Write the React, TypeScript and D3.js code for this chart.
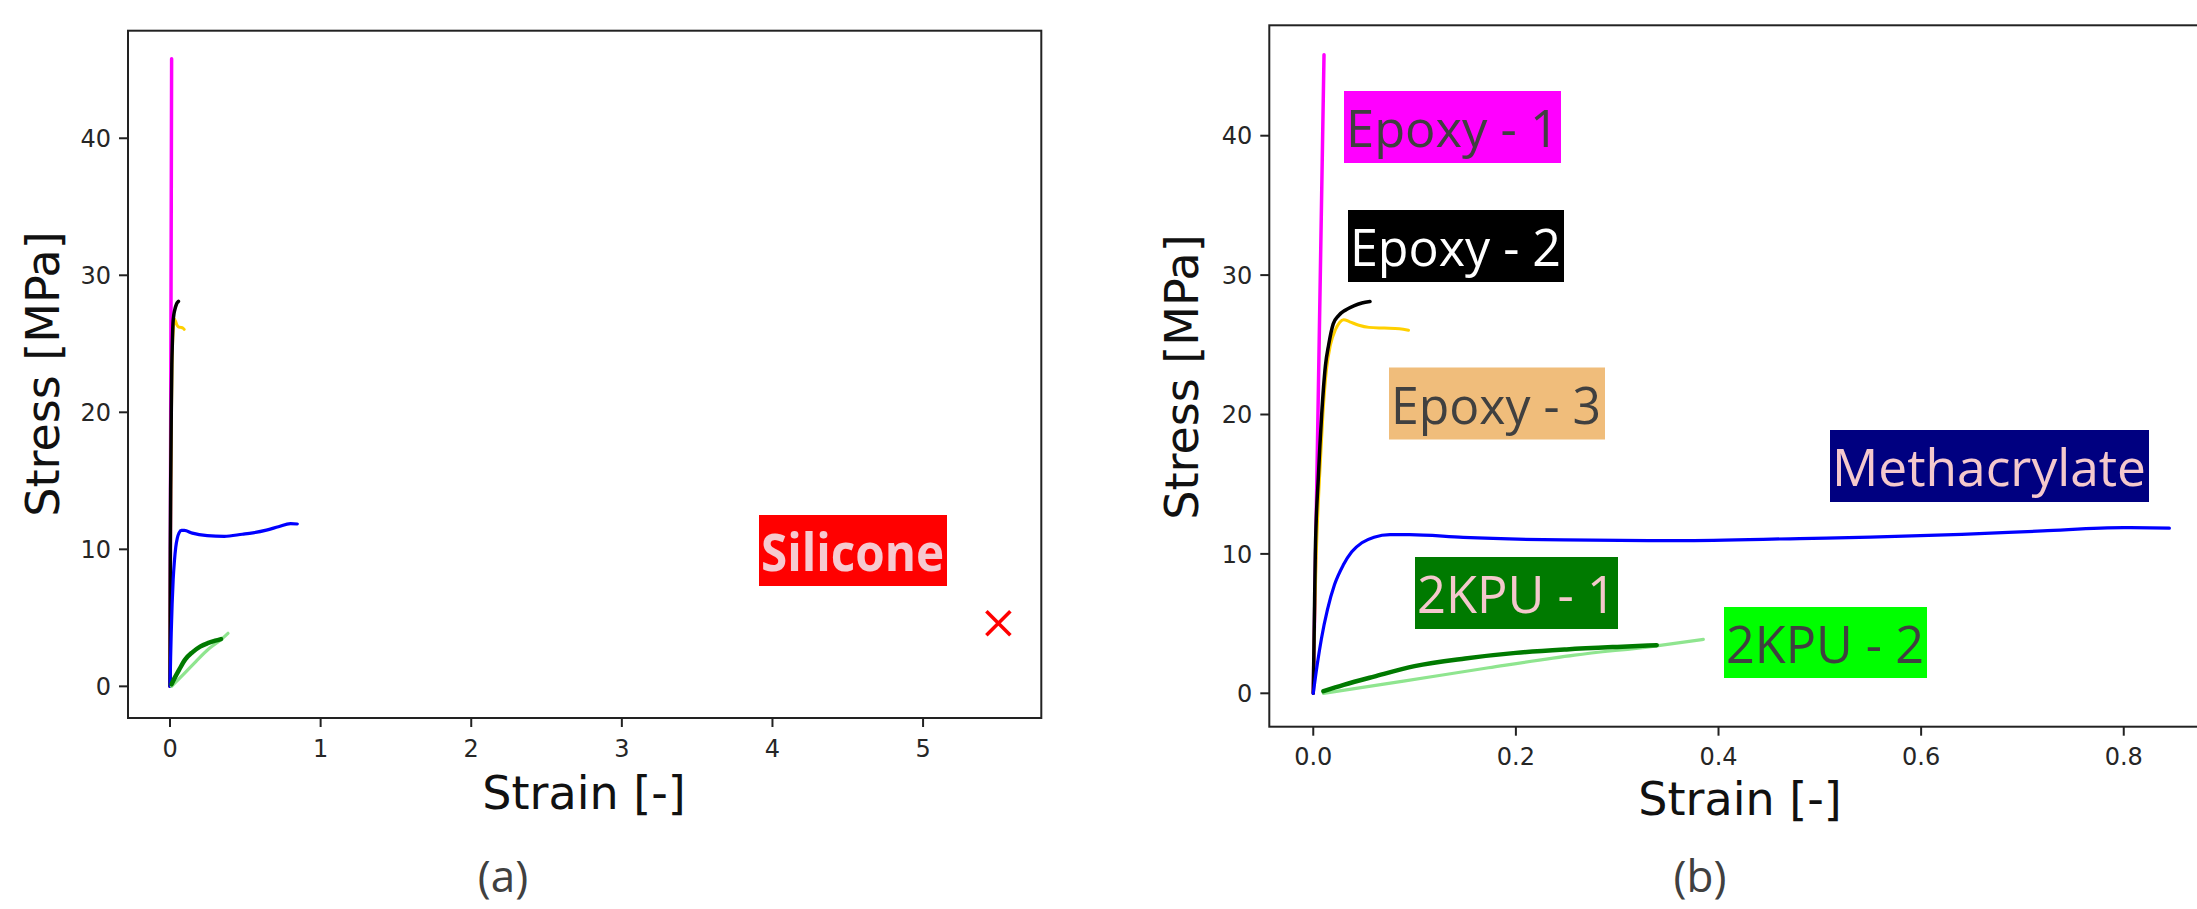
import React, { useEffect } from "react";
import * as d3 from "d3";

// ---------- data (strain [-], stress [MPa]) ----------
const epoxy1: [number, number][] = [[0, 0], [0.0106, 45.8]];
const epoxy2: [number, number][] = [
  [0, 0], [0.001, 5], [0.002, 10], [0.005, 15.5], [0.0083, 20], [0.012, 23.5], [0.0152, 25],
  [0.0197, 26.5], [0.025, 27.1], [0.032, 27.5], [0.04, 27.8], [0.048, 28.0], [0.056, 28.1],
];
const epoxy3: [number, number][] = [
  [0, 0], [0.0012, 5], [0.003, 10], [0.0062, 15.5], [0.0095, 20], [0.013, 23.2], [0.017, 25],
  [0.022, 26.1], [0.026, 26.6], [0.03, 26.8], [0.036, 26.65], [0.045, 26.4], [0.055, 26.25],
  [0.07, 26.2], [0.085, 26.15], [0.094, 26.05],
];
const methacrylate: [number, number][] = [
  [0, 0], [0.004, 2.1], [0.008, 3.9], [0.014, 6.0], [0.021, 7.8], [0.0296, 9.2], [0.038, 10.15],
  [0.048, 10.8], [0.06, 11.2], [0.0757, 11.38], [0.095, 11.38], [0.148, 11.18], [0.247, 11.0],
  [0.36, 10.95], [0.48, 11.1], [0.55, 11.2], [0.64, 11.4], [0.72, 11.65], [0.8, 11.88], [0.845, 11.85],
];
const kpu1: [number, number][] = [
  [0.01, 0.15], [0.03, 0.6], [0.06, 1.2], [0.1, 1.95], [0.15, 2.5], [0.2, 2.9], [0.25, 3.15],
  [0.3, 3.33], [0.339, 3.45],
];
const kpu2: [number, number][] = [
  [0.01, 0.0], [0.089, 0.87], [0.173, 1.83], [0.258, 2.74], [0.337, 3.39], [0.385, 3.87],
];
const silicone: [number, number][] = [[5.5, 4.6]];

const yTicks = [0, 10, 20, 30, 40];
const xTicksA = [0, 1, 2, 3, 4, 5];
const xTicksB = [0, 0.2, 0.4, 0.6, 0.8];

const seriesNames = ["Epoxy - 1", "Epoxy - 2", "Epoxy - 3", "Methacrylate", "2KPU - 1", "2KPU - 2"];
const seriesData = [epoxy1, epoxy2, epoxy3, methacrylate, kpu1, kpu2];
const seriesColors = ["#ff00ff", "#000000", "#ffd000", "#0000ff", "#007a00", "#8fe58f"];
const seriesWidths = [3.5, 3.5, 3, 3.2, 4.5, 3.2];
const drawOrder = [0, 2, 1, 3, 5, 4];

const W = 2197;
const H = 909;
const tickFont = "DejaVu Sans";

type PanelProps = {
  x: d3.ScaleLinear<number, number>;
  y: d3.ScaleLinear<number, number>;
  xTicks: number[];
  fmt: (v: number) => string;
  xLabelX: number;
  yLabelY: number;
  yLabelX: number;
  xLabelY: number;
  clipId: string;
};

function Panel({ x, y, xTicks, fmt, xLabelX, yLabelY, yLabelX, xLabelY, clipId }: PanelProps) {
  const [x0, x1] = x.range();
  const [y0, y1] = y.range(); // y0 bottom, y1 top
  const line = d3
    .line<[number, number]>()
    .x((d) => x(d[0]))
    .y((d) => y(d[1]))
    .curve(d3.curveMonotoneX);
  return (
    <g>
      <defs>
        <clipPath id={clipId}>
          <rect x={x0} y={y1} width={x1 - x0} height={y0 - y1} />
        </clipPath>
      </defs>
      <g clipPath={`url(#${clipId})`}>
        {drawOrder.map((i) => (
          <path
            key={i}
            d={line(seriesData[i]) || ""}
            fill="none"
            stroke={seriesColors[i]}
            strokeWidth={seriesWidths[i]}
            strokeLinejoin="round"
            strokeLinecap="round"
          />
        ))}
      </g>
      <rect x={x0} y={y1} width={x1 - x0} height={y0 - y1} fill="none" stroke="#222" strokeWidth={2} />
      {yTicks.map((t) => (
        <g key={"y" + t}>
          <line x1={x0 - 9} x2={x0} y1={y(t)} y2={y(t)} stroke="#222" strokeWidth={2} />
          <text x={x0 - 17} y={y(t) + 8.7} textAnchor="end" fontFamily={tickFont} fontSize={24} fill="#262626">
            {t}
          </text>
        </g>
      ))}
      {xTicks.map((t) => (
        <g key={"x" + t}>
          <line x1={x(t)} x2={x(t)} y1={y0} y2={y0 + 9} stroke="#222" strokeWidth={2} />
          <text x={x(t)} y={y0 + 38.5} textAnchor="middle" fontFamily={tickFont} fontSize={24} fill="#262626">
            {fmt(t)}
          </text>
        </g>
      ))}
      <text x={xLabelX} y={xLabelY} textAnchor="middle" fontFamily={tickFont} fontSize={46} fill="#111">
        Strain [-]
      </text>
      <text
        transform={`translate(${yLabelX},${yLabelY}) rotate(-90)`}
        textAnchor="middle"
        fontFamily={tickFont}
        fontSize={46}
        fill="#111"
      >
        Stress [MPa]
      </text>
    </g>
  );
}

type Tag = { text: string; x: number; y: number; w: number; h: number; bg: string; fg: string; tw: number; bold?: boolean };

const tagsB: Tag[] = [
  { text: seriesNames[0], x: 1344, y: 91, w: 217, h: 72, bg: "#ff00ff", fg: "#404040", tw: 213 },
  { text: seriesNames[1], x: 1348, y: 210, w: 216, h: 72, bg: "#000000", fg: "#ffffff", tw: 211 },
  { text: seriesNames[2], x: 1389, y: 367.5, w: 216, h: 72, bg: "#f0bd7b", fg: "#404040", tw: 210 },
  { text: seriesNames[3], x: 1830, y: 430, w: 319, h: 72, bg: "#000080", fg: "#f4c8cc", tw: 314 },
  { text: seriesNames[4], x: 1415, y: 557, w: 203, h: 72, bg: "#007a00", fg: "#f4c8cc", tw: 199 },
  { text: seriesNames[5], x: 1724, y: 607, w: 203, h: 71, bg: "#00ff00", fg: "#404040", tw: 198 },
];

const tagsA: Tag[] = [
  { text: "Silicone", x: 759, y: 515, w: 188, h: 71, bg: "#ff0000", fg: "#f6c9d0", tw: 183, bold: true },
];

function TagBox({ t }: { t: Tag }) {
  return (
    <g>
      <rect x={t.x} y={t.y} width={t.w} height={t.h} fill={t.bg} />
      <text
        x={t.x + 2}
        y={t.y + 56}
        fontFamily="'Open Sans', 'Noto Sans', sans-serif"
        fontWeight={t.bold ? 700 : 400}
        fontSize={52}
        fill={t.fg}
        textLength={t.tw}
        lengthAdjust="spacingAndGlyphs"
      >
        {t.text}
      </text>
    </g>
  );
}

export default function App() {
  useEffect(() => {
    document.body.style.margin = "0";
    document.body.style.overflow = "hidden";
  }, []);

  const xA = d3.scaleLinear().domain([-0.279, 5.785]).range([128, 1041.3]);
  const yA = d3.scaleLinear().domain([-2.31, 47.85]).range([718, 30.7]);
  const xB = d3.scaleLinear().domain([-0.0434, 0.8875]).range([1269.3, 2212.4]);
  const yB = d3.scaleLinear().domain([-2.396, 47.92]).range([726.7, 25.3]);

  const s = silicone[0];
  const sx = xA(s[0]);
  const sy = yA(s[1]);
  const r = 12;

  return (
    <svg
      width={W}
      height={H}
      style={{ position: "absolute", left: 0, top: 0, display: "block", background: "#fff" }}
    >
      <rect x={0} y={0} width={W} height={H} fill="#fff" />
      <Panel
        x={xA}
        y={yA}
        xTicks={xTicksA}
        fmt={(v) => d3.format("d")(v)}
        xLabelX={584}
        xLabelY={809}
        yLabelX={59}
        yLabelY={374}
        clipId="clipA"
      />
      <g>
        <line x1={sx - r} y1={sy - r} x2={sx + r} y2={sy + r} stroke="#ff0000" strokeWidth={3.5} />
        <line x1={sx - r} y1={sy + r} x2={sx + r} y2={sy - r} stroke="#ff0000" strokeWidth={3.5} />
      </g>
      {tagsA.map((t) => (
        <TagBox key={t.text} t={t} />
      ))}

      <Panel
        x={xB}
        y={yB}
        xTicks={xTicksB}
        fmt={(v) => d3.format(".1f")(v)}
        xLabelX={1740}
        xLabelY={815}
        yLabelX={1198}
        yLabelY={377}
        clipId="clipB"
      />
      {tagsB.map((t) => (
        <TagBox key={t.text} t={t} />
      ))}

      <text x={503} y={892} textAnchor="middle" fontFamily="'Open Sans', sans-serif" fontSize={44} fill="#404040">
        (a)
      </text>
      <text x={1700} y={892} textAnchor="middle" fontFamily="'Open Sans', sans-serif" fontSize={44} fill="#404040">
        (b)
      </text>
    </svg>
  );
}
